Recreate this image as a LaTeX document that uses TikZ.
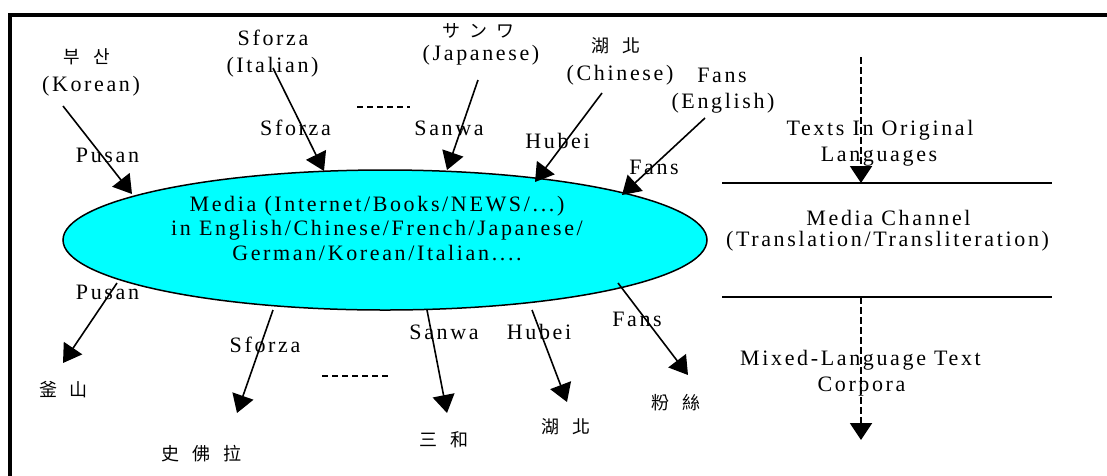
\documentclass[tikz,border=0pt]{standalone}
\usepackage{fontspec}
\setmainfont{Liberation Serif}[LetterSpace=12]
\newfontfamily\krfont{Noto Sans CJK KR}
\newfontfamily\jpfont{Noto Sans CJK JP}
\newfontfamily\tcfont{Noto Sans CJK TC}
\usetikzlibrary{arrows.meta,shapes.geometric}
\definecolor{mediafill}{RGB}{0,255,255}
\tikzset{
  lbl/.style={font=\fontsize{22}{25}\selectfont, inner sep=0pt, anchor=base},
  cjk/.style={inner sep=0pt, anchor=center},
  cjkkr/.style={cjk, font={\krfont\fontsize{18}{21}\selectfont\spaceskip=13pt\relax}},
  cjkjp/.style={cjk, font={\jpfont\fontsize{18}{21}\selectfont\spaceskip=9pt\relax}},
  cjktc/.style={cjk, font={\tcfont\fontsize{18}{21}\selectfont\spaceskip=13pt\relax}},
  arr/.style={line width=1.6pt, -{Triangle[length=18pt,width=22pt]}},
  darr/.style={line width=2pt, dash pattern=on 7pt off 3pt, -{Triangle[length=17pt,width=22pt]}},
  rulebar/.style={line width=2pt},
  dline/.style={line width=1.5pt, dash pattern=on 6pt off 4pt},
  frame/.style={line width=3.6pt},
}
\begin{document}
\begin{tikzpicture}[x=1pt,y=-1pt]
\useasboundingbox (0,0) rectangle (1107,475);
% frame
\coordinate (ftl) at (10,15);
\coordinate (ftr) at (1110,15);
\coordinate (fbl) at (10,480);
\draw[frame] (ftr) -- (ftl) -- (fbl);

% central ellipse
\node[draw, line width=1.5pt, fill=mediafill, ellipse, minimum width=644pt, minimum height=140pt, inner sep=0pt] (media) at (385,240) {};
\node[font=\fontsize{22}{24.5}\selectfont, inner sep=0pt, align=center, anchor=center] (mediatext) at (377,228.5)
  {Media (Internet/Books/NEWS/...)\\in English/Chinese/French/Japanese/\\German/Korean/Italian....};

% top source labels
\node[cjkkr] (kr1) at (87,57) {부 산};
\node[lbl] (kr2) at (91,91) {(Korean)};
\node[lbl] (it1) at (273,45) {Sforza};
\node[lbl] (it2) at (272.5,72) {(Italian)};
\node[cjkjp] (jp1) at (478,31) {サ ン ワ};
\node[lbl] (jp2) at (481,60) {(Japanese)};
\node[cjktc] (cn1) at (616,46) {湖 北};
\node[lbl] (cn2) at (620,80) {(Chinese)};
\node[lbl] (en1) at (722,82) {Fans};
\node[lbl] (en2) at (723,108) {(English)};

% incoming arrows
\coordinate (inPs) at (63,106);  \coordinate (inPt) at (132,194);
\coordinate (inSs) at (273,68);  \coordinate (inSt) at (324,171);
\coordinate (inWs) at (478,80);  \coordinate (inWt) at (447,170);
\coordinate (inHs) at (602,93);  \coordinate (inHt) at (535,182);
\coordinate (inFs) at (705,118); \coordinate (inFt) at (622,195);
\draw[arr] (inPs) -- (inPt);
\draw[arr] (inSs) -- (inSt);
\draw[arr] (inWs) -- (inWt);
\draw[arr] (inHs) -- (inHt);
\draw[arr] (inFs) -- (inFt);
\node[lbl] (lPin) at (107.5,162) {Pusan};
\node[lbl] (lSin) at (295.5,135) {Sforza};
\node[lbl] (lWin) at (449,135) {Sanwa};
\node[lbl] (lHin) at (557.5,148) {Hubei};
\node[lbl] (lFin) at (654,174) {Fans};
\coordinate (dta) at (357,107); \coordinate (dtb) at (410,107);
\draw[dline] (dta) -- (dtb);

% outgoing arrows
\coordinate (outPs) at (117,283); \coordinate (outPt) at (63,363);
\coordinate (outSs) at (273,310); \coordinate (outSt) at (237,413);
\coordinate (outWs) at (427,310); \coordinate (outWt) at (447,413);
\coordinate (outHs) at (532,310); \coordinate (outHt) at (567,402);
\coordinate (outFs) at (618,283); \coordinate (outFt) at (688,375);
\draw[arr] (outPs) -- (outPt);
\draw[arr] (outSs) -- (outSt);
\draw[arr] (outWs) -- (outWt);
\draw[arr] (outHs) -- (outHt);
\draw[arr] (outFs) -- (outFt);
\node[lbl] (lPout) at (107.5,299) {Pusan};
\node[lbl] (lSout) at (265,352) {Sforza};
\node[lbl] (lWout) at (444,339) {Sanwa};
\node[lbl] (lHout) at (539,339) {Hubei};
\node[lbl] (lFout) at (637,326) {Fans};
\coordinate (dba) at (322,376); \coordinate (dbb) at (390,376);
\draw[dline] (dba) -- (dbb);

% target labels
\node[cjktc] (t1) at (63.5,389.5) {釜 山};
\node[cjktc] (t2) at (201.5,453.5) {史 佛 拉};
\node[cjktc] (t3) at (444,439.5) {三 和};
\node[cjktc] (t4) at (566,426.5) {湖 北};
\node[cjktc] (t5) at (676,402.5) {粉 絲};

% right panel
\coordinate (r1a) at (722,183); \coordinate (r1b) at (1052,183);
\coordinate (r2a) at (722,297); \coordinate (r2b) at (1052,297);
\draw[rulebar] (r1a) -- (r1b);
\draw[rulebar] (r2a) -- (r2b);
\coordinate (v1s) at (861,57);  \coordinate (v1t) at (861,183);
\coordinate (v2s) at (861,297); \coordinate (v2t) at (861,440);
\draw[darr] (v1s) -- (v1t);
\draw[darr] (v2s) -- (v2t);
\node[lbl] (p1) at (880,135) {Texts In Original};
\node[lbl] (p2) at (879,161) {Languages};
\node[lbl] (p3) at (888.5,225) {Media Channel};
\node[lbl] (p4) at (887.5,246) {(Translation/Transliteration)};
\node[lbl] (p5) at (860.5,365) {Mixed-Language Text};
\node[lbl] (p6) at (861.5,391) {Corpora};
\end{tikzpicture}
\end{document}
